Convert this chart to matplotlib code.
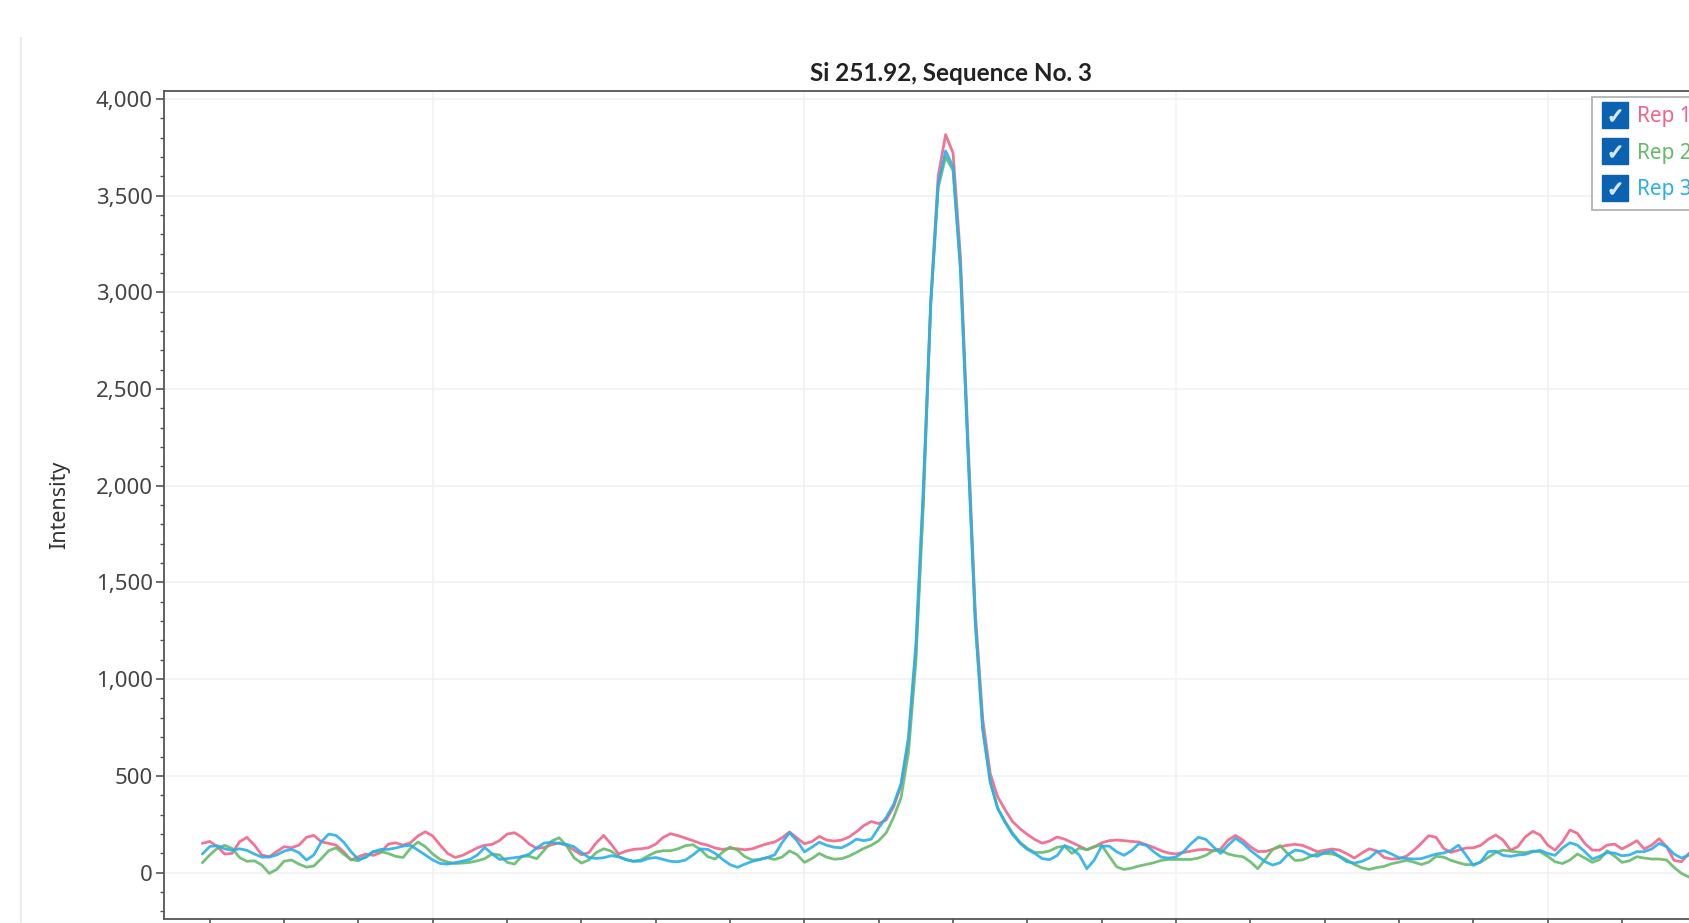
import numpy as np
import matplotlib
matplotlib.use("Agg")
import matplotlib.pyplot as plt
from matplotlib.lines import Line2D
from matplotlib.ticker import MultipleLocator, FuncFormatter

plt.rcParams["font.family"] = ["Noto Sans", "DejaVu Sans"]

# wavelength grid (nm), one point per 0.001 nm
wavelength = np.round(251.819 + 0.001 * np.arange(202), 4)

rep1 = [151, 161, 134, 96, 99, 159, 182, 142, 91, 82, 108, 134, 128, 142, 182, 192, 159, 151, 142, 108,
        65, 82, 96, 89, 103, 147, 154, 142, 154, 189, 211, 189, 142, 99, 78, 89, 108, 128, 141,
        146, 166, 199, 206, 182, 147, 125, 130, 144, 153, 141, 116, 92, 103, 154, 192, 147, 96, 111, 120,
        123, 128, 147, 182, 201, 191, 178, 165, 151, 141, 127, 120, 125, 123, 118, 123, 137, 149, 158, 180, 210,
        179, 149, 160, 187, 168, 163, 168, 184, 211, 243, 264, 253, 272, 339, 451, 672, 1139, 1944, 2952, 3600,
        3815, 3720, 3180, 2250, 1340, 790, 512, 392, 325, 264, 227, 197, 171, 152, 163, 184, 173, 155,
        137, 118, 132, 154, 165, 168, 165, 161, 158, 144, 130, 113, 101, 96, 104, 111, 118, 120, 113, 122,
        168, 192, 168, 134, 109, 109, 120, 134, 141, 146, 141, 125, 108, 115, 122, 116, 97, 75, 101, 123, 112,
        78, 70, 72, 85, 115, 151, 191, 182, 125, 104, 116, 127, 128, 141, 172, 194, 168, 116, 134, 185,
        213, 194, 142, 116, 159, 220, 203, 151, 116, 116, 142, 147, 122, 142, 165, 122, 142, 175, 134, 63,
        56, 99, 116]

rep2 = [51, 91, 125, 141, 125, 78, 58, 61, 39, -4, 16, 59, 65, 44, 28, 34, 72, 113, 128, 96,
        68, 61, 85, 109, 109, 99, 84, 78, 125, 158, 134, 96, 68, 54, 47, 49, 53, 61, 72,
        97, 91, 53, 44, 85, 84, 72, 116, 163, 180, 139, 77, 49, 65, 104, 123, 111, 82, 66, 58,
        65, 87, 106, 113, 113, 123, 139, 144, 120, 82, 70, 106, 132, 116, 82, 65, 68, 77, 68, 80, 112,
        93, 53, 72, 99, 80, 69, 72, 85, 104, 125, 141, 165, 205, 285, 387, 619, 1090, 1900, 2930, 3540,
        3700, 3630, 3120, 2190, 1290, 740, 470, 333, 264, 205, 157, 125, 104, 104, 112, 131, 136, 99,
        127, 118, 135, 141, 85, 30, 16, 23, 34, 42, 51, 63, 68, 68, 68, 68, 75, 89, 113, 116,
        96, 87, 82, 56, 20, 68, 120, 139, 99, 63, 65, 82, 97, 99, 96, 85, 65, 42, 25, 16, 26,
        32, 46, 54, 63, 54, 42, 54, 84, 80, 63, 51, 41, 42, 54, 78, 104, 116, 111, 106, 103,
        111, 108, 84, 56, 47, 65, 96, 75, 53, 68, 113, 85, 53, 61, 82, 75, 70, 70, 65, 27,
        -4, -23, -30]

rep3 = [96, 135, 139, 123, 115, 123, 115, 96, 80, 80, 91, 111, 120, 103, 65, 91, 159, 199, 192, 158,
        108, 68, 78, 108, 120, 120, 127, 137, 141, 116, 91, 65, 47, 44, 51, 59, 68, 91, 130,
        96, 68, 72, 77, 82, 96, 128, 153, 156, 151, 146, 134, 104, 78, 73, 77, 87, 82, 68, 59,
        59, 73, 78, 68, 58, 56, 65, 91, 122, 120, 99, 68, 41, 27, 44, 58, 68, 78, 92, 155, 206,
        165, 107, 131, 157, 141, 131, 128, 147, 173, 165, 173, 232, 285, 352, 459, 700, 1180, 1990, 2950, 3560,
        3730, 3650, 3120, 2190, 1290, 740, 470, 333, 259, 197, 152, 120, 99, 72, 67, 88, 140, 125,
        90, 20, 65, 137, 137, 108, 89, 113, 149, 141, 108, 80, 75, 80, 108, 149, 182, 172, 134, 99,
        141, 177, 151, 115, 85, 56, 39, 51, 92, 116, 111, 91, 84, 103, 111, 82, 56, 49, 58, 75, 108,
        113, 96, 77, 73, 70, 72, 84, 96, 101, 115, 142, 91, 37, 56, 108, 111, 89, 84, 91, 94,
        108, 115, 99, 89, 127, 154, 142, 108, 70, 84, 103, 101, 87, 91, 108, 108, 122, 151, 134, 96,
        75, 91, 99]

labels = ["Rep 1", "Rep 2", "Rep 3"]
colors = ["#F0648A", "#66BB6A", "#2AAFEA"]
title = "Si 251.92, Sequence No. 3"

fig = plt.figure(figsize=(16.89, 9.23), dpi=100)
ax = fig.add_axes([0.09692, 0.00433, 0.93227, 0.89762])

for series, c in zip([rep1, rep2, rep3], colors):
    ax.plot(wavelength, series, color=c, lw=2.0, alpha=0.9,
            solid_joinstyle="round", solid_capstyle="round")

ax.set_xlim(251.8138, 252.02565)
ax.set_ylim(-240, 4043)

ax.yaxis.set_major_locator(MultipleLocator(500))
ax.yaxis.set_minor_locator(MultipleLocator(100))
ax.yaxis.set_major_formatter(FuncFormatter(lambda v, p: f"{v:,.0f}"))
ax.xaxis.set_major_locator(MultipleLocator(0.05))
ax.xaxis.set_minor_locator(MultipleLocator(0.01))

ax.grid(True, which="major", color="#F2F2F2", lw=1.2)
ax.set_axisbelow(True)
ax.tick_params(axis="y", which="major", length=6, width=1.2, color="#555555",
               labelsize=16, labelcolor="#444444", pad=2)
ax.tick_params(axis="y", which="minor", length=3, width=1.0, color="#555555")
# x labels fall below the visible canvas in the reference, so they are not drawn
ax.tick_params(axis="x", which="both", length=7, width=1.2, color="#555555",
               labelbottom=False)

for side in ["left", "top", "bottom", "right"]:
    ax.spines[side].set_color("#555555")
    ax.spines[side].set_linewidth(1.3)

ax.set_title(title, fontsize=17.5, fontweight="bold", color="#222222", pad=7,
             family=["Lato", "DejaVu Sans"])
ax.set_ylabel("Intensity", fontsize=15.5, color="#333333")
ax.yaxis.set_label_coords(-0.0595, 0.5)

# checkbox-style legend (cut by the right edge, as in the reference)
handles = []
for c in colors:
    box = Line2D([], [], ls="none", marker="s", markersize=18.5, color="#0A62B0")
    tick = Line2D([], [], ls="none", marker="$\\checkmark$", markersize=8, color="#D5E6F8")
    handles.append((box, tick))
leg = ax.legend(handles, labels, loc="upper left", bbox_to_anchor=(0.9071, 0.9922),
                borderaxespad=0, fontsize=15, frameon=True, fancybox=False,
                handlelength=1.3, handletextpad=0.4, labelspacing=0.74, borderpad=0.45)
leg.get_frame().set_edgecolor("#A0A0A0")
leg.get_frame().set_linewidth(1.3)
for txt, c in zip(leg.get_texts(), colors):
    txt.set_color(c)

# faint panel border on the left
fig.add_artist(Line2D([21 / 1689, 21 / 1689], [0, 1 - 38 / 923], transform=fig.transFigure,
                      color="#EBEBEB", lw=1.5))

fig.savefig("out.png", dpi=100)
